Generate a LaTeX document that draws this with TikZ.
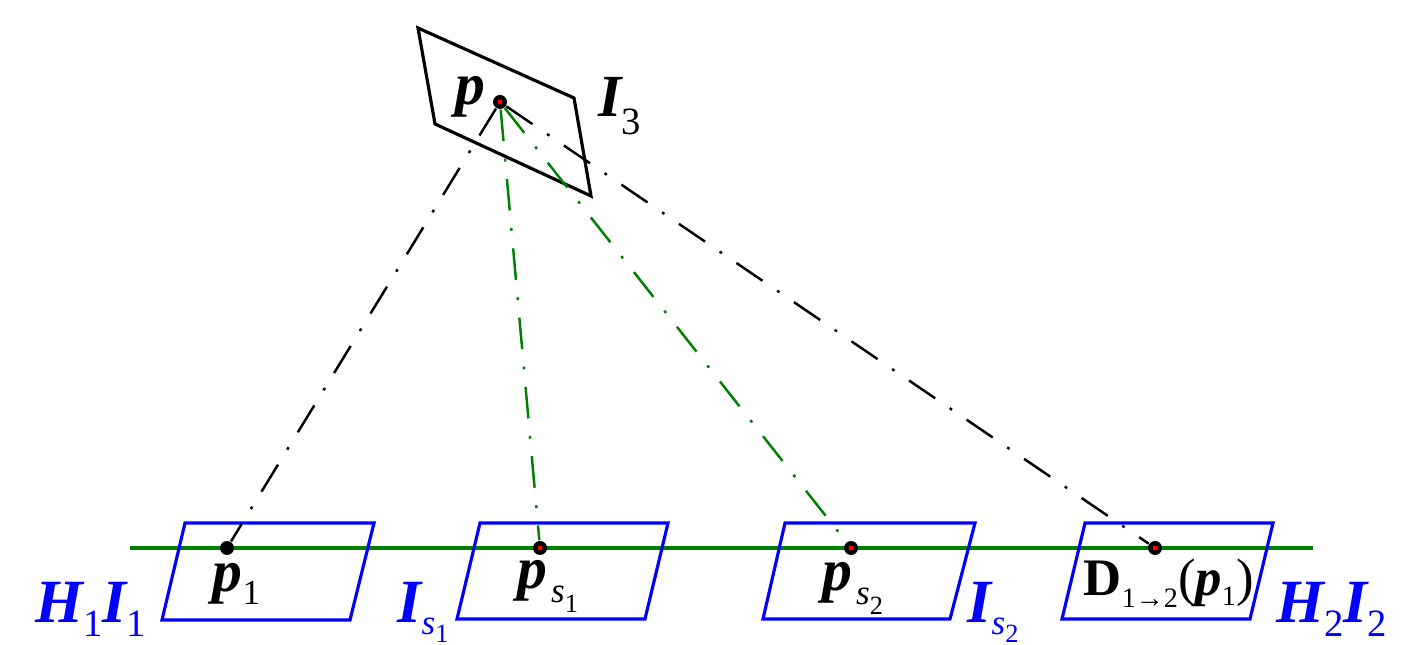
\documentclass[tikz,border=0pt]{standalone}
\usepackage{fontspec}
\setmainfont{Liberation Serif}
\usepackage{xcolor}
\usepackage{tikz}
\usetikzlibrary{positioning}

\definecolor{lineGreen}{RGB}{0,128,0}
% bold italic variable, lowered subscript (drop, size, text)
\newcommand{\bivar}[1]{{\bfseries\itshape #1}}
\newcommand{\lsub}[3]{\raisebox{-#1}{\fontsize{#2}{#2}\selectfont #3}}

\begin{document}
\begin{tikzpicture}[
    ray/.style={line width=0.7pt, dash pattern=on 9pt off 5pt on 0.8pt off 5pt},
    imgframe/.style={line width=0.9pt, line join=miter},
    ptdot/.style={circle, fill=black, inner sep=0pt, minimum size=0.14cm},
    lbl/.style={inner sep=0pt, anchor=base west, font=\fontsize{17}{20}\selectfont}
  ]
  \useasboundingbox (0,0) rectangle (14.01,6.44);

  % ===== Image I_3 (top) =====
  \draw[imgframe] (4.18,6.16) -- (5.74,5.46) -- (5.91,4.48) -- (4.35,5.20) -- cycle;

  % ===== Baseline through the bottom images =====
  \coordinate (baseL) at (1.30,0.96);
  \coordinate (baseR) at (13.13,0.96);
  \draw[lineGreen, line width=1.4pt] (baseL) -- (baseR);

  % ===== Bottom images =====
  \draw[imgframe, blue] (1.85,1.21) -- (3.74,1.21) -- (3.50,0.24) -- (1.62,0.24) -- cycle;
  \draw[imgframe, blue] (4.80,1.21) -- (6.68,1.21) -- (6.45,0.25) -- (4.57,0.25) -- cycle;
  \draw[imgframe, blue] (7.85,1.21) -- (9.75,1.21) -- (9.50,0.25) -- (7.63,0.25) -- cycle;
  \draw[imgframe, blue] (10.85,1.21) -- (12.73,1.21) -- (12.50,0.25) -- (10.62,0.25) -- cycle;

  % points
  \node[ptdot] (p)   at (5.00,5.42) {};
  \node[ptdot] (p1)  at (2.27,0.96) {};
  \node[ptdot] (ps1) at (5.40,0.96) {};
  \node[ptdot] (ps2) at (8.51,0.96) {};
  \node[ptdot] (dp)  at (11.55,0.96) {};

  % rays
  \draw[ray] (p) -- (p1);
  \draw[ray] (p) -- (dp);
  \draw[ray, lineGreen] (p) -- (ps1);
  \draw[ray, lineGreen] (p) -- (ps2);

  % red centres
  \foreach \q in {p,ps1,ps2,dp}
    \fill[red] (\q) circle (0.025);

  % ===== Labels =====
  \node[lbl] (lp)   at (4.55,5.39) {\bivar{p}};
  \node[lbl] (lI3)  at (5.98,5.27) {\bivar{I}\lsub{5pt}{11}{3}};
  \node[lbl] (lp1)  at (2.12,0.53) {\bivar{p}\lsub{3.7pt}{10}{1}};
  \node[lbl] (lps1) at (5.17,0.56) {\bivar{p}\kern1pt\lsub{4pt}{10}{\itshape s\lsub{3pt}{7.5}{\upshape 1}}};
  \node[lbl] (lps2) at (8.22,0.54) {\bivar{p}\kern1pt\lsub{4pt}{10}{\itshape s\lsub{3pt}{7.5}{\upshape 2}}};
  \node[lbl, font=\fontsize{15}{18}\selectfont] (ldp) at (10.83,0.49)
    {\textbf{D}\lsub{3.5pt}{8}{1→2}(\bivar{p}\lsub{3pt}{8}{1})};
  \node[lbl, text=blue, font=\fontsize{17.5}{20}\selectfont] (lH1) at (0.35,0.22)
    {\bivar{H}\lsub{4pt}{11}{1}\bivar{I}\lsub{4pt}{11}{1}};
  \node[lbl, text=blue, font=\fontsize{17.5}{20}\selectfont] (lIs1) at (3.97,0.22)
    {\bivar{I}\lsub{3.5pt}{10}{\itshape s\lsub{2.3pt}{7.5}{\upshape 1}}};
  \node[lbl, text=blue, font=\fontsize{17.5}{20}\selectfont] (lIs2) at (9.67,0.22)
    {\bivar{I}\lsub{3.5pt}{10}{\itshape s\lsub{2.3pt}{7.5}{\upshape 2}}};
  \node[lbl, text=blue, font=\fontsize{17.5}{20}\selectfont] (lH2) at (12.76,0.22)
    {\bivar{H}\lsub{4pt}{11}{2}\bivar{I}\lsub{4pt}{11}{2}};
\end{tikzpicture}
\end{document}
